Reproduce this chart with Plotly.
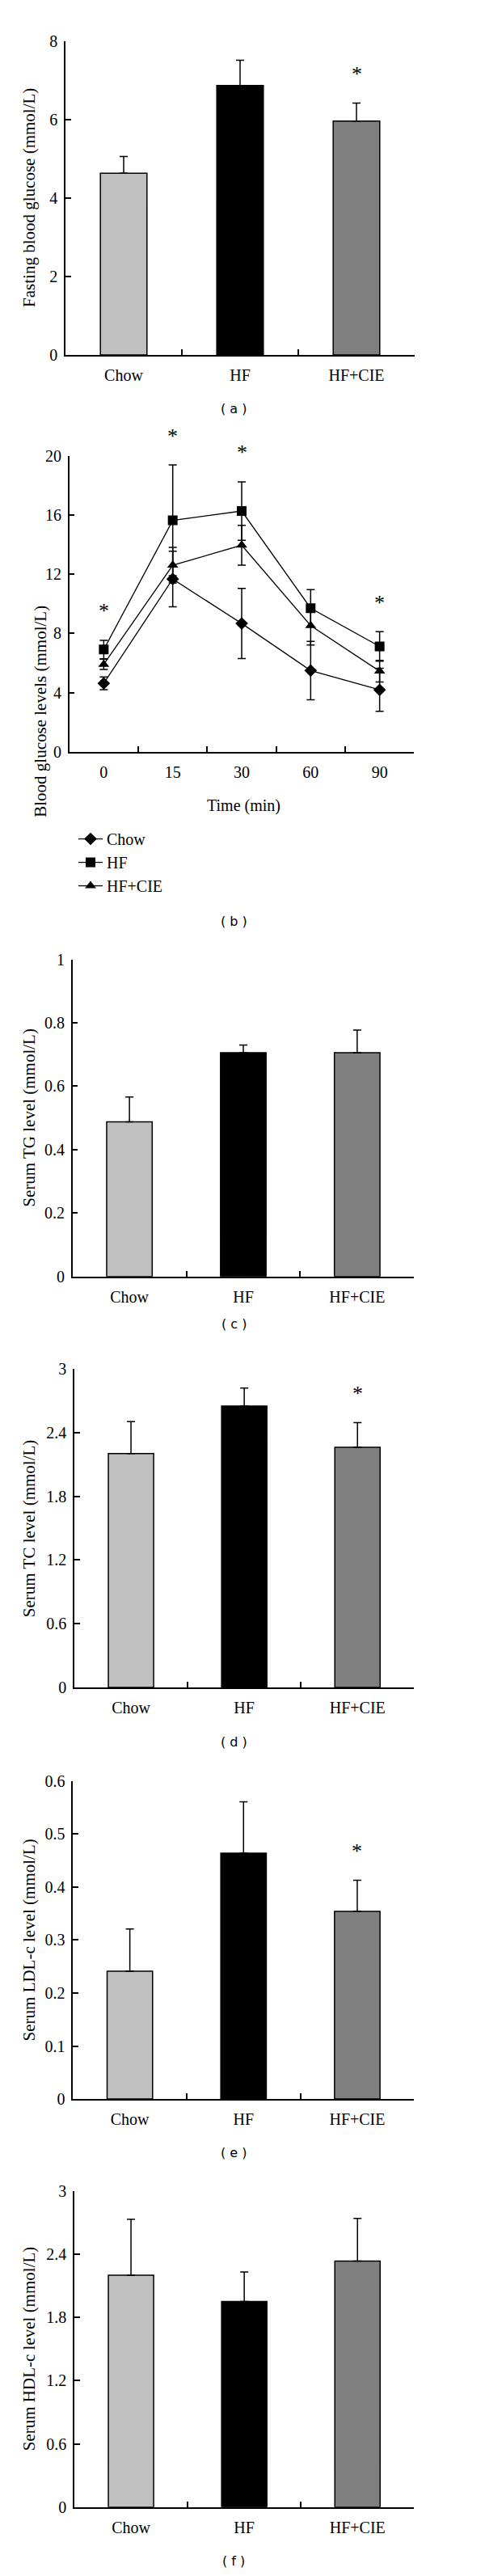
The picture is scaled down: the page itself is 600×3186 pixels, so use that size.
import plotly.graph_objects as go

# ---------------- data ----------------
groups = ["Chow", "HF", "HF+CIE"]
group_colors = ["#c0c0c0", "#000000", "#808080"]

fbg_mean = [4.63, 6.87, 5.96]
fbg_sd = [0.43, 0.64, 0.46]
fbg_sig = [False, False, True]

time_labels = ["0", "15", "30", "60", "90"]
ogtt_chow = [4.63, 11.67, 8.67, 5.49, 4.19]
ogtt_chow_sd = [0.43, 1.88, 2.37, 1.97, 1.45]
ogtt_hf = [6.91, 15.63, 16.26, 9.70, 7.12]
ogtt_hf_sd = [0.62, 3.74, 1.97, 1.26, 1.00]
ogtt_hfcie = [5.91, 12.60, 13.95, 8.53, 5.45]
ogtt_hfcie_sd = [0.35, 1.20, 1.35, 1.32, 0.73]
ogtt_sig = [True, True, True, False, True]

tg_mean = [0.488, 0.706, 0.706]
tg_sd = [0.078, 0.024, 0.071]
tg_sig = [False, False, False]

tc_mean = [2.205, 2.652, 2.263]
tc_sd = [0.300, 0.170, 0.232]
tc_sig = [False, False, True]

ldl_mean = [0.241, 0.464, 0.354]
ldl_sd = [0.080, 0.097, 0.059]
ldl_sig = [False, False, True]

hdl_mean = [2.200, 1.950, 2.333]
hdl_sd = [0.530, 0.280, 0.406]
hdl_sig = [False, False, False]

# ---------------- layout helpers ----------------
W, H = 600, 3186
SERIF = "Liberation Serif"
SANS = "DejaVu Sans"
STAR_SHIFT = 36


def fx(p):
    return p / W


def fy(p):
    return 1 - p / H


fig = go.Figure()
annotations = []

bar_panels = [
    (1, fbg_mean, fbg_sd, fbg_sig, "Fasting blood glucose (mmol/L)", [0, 8], 2, 73, 505, 32, 423, "( a )", 490),
    (3, tg_mean, tg_sd, tg_sig, "Serum TG level (mmol/L)", [0, 1], 0.2, 81.7, 504.3, 1175.7, 1570.7, "( c )", 1630),
    (4, tc_mean, tc_sd, tc_sig, "Serum TC level (mmol/L)", [0, 3], 0.6, 84, 504.3, 1686, 2082.3, "( d )", 2150),
    (5, ldl_mean, ldl_sd, ldl_sig, "Serum LDL-c level (mmol/L)", [0, 0.6], 0.1, 82.3, 504.3, 2199, 2595, "( e )", 2661.7),
    (6, hdl_mean, hdl_sd, hdl_sig, "Serum HDL-c level (mmol/L)", [0, 3], 0.6, 84, 504.3, 2709.3, 3103.3, "( f )", 3170),
]

axis_common = dict(
    showline=True, linecolor="black", linewidth=1.5,
    ticks="inside", ticklen=7, tickwidth=1.5, tickcolor="black",
    showgrid=False, zeroline=False,
    tickfont=dict(family=SERIF, size=20, color="black"),
)


def add_axes(i, x0, x1, ytop, ybot, yrange, dtick, xcats):
    xa = "xaxis" if i == 1 else f"xaxis{i}"
    ya = "yaxis" if i == 1 else f"yaxis{i}"
    fig.layout[xa] = dict(
        axis_common,
        domain=[fx(x0), fx(x1)],
        anchor=("y" if i == 1 else f"y{i}"),
        type="category", categoryorder="array", categoryarray=xcats,
        range=[-0.5, len(xcats) - 0.5], tickson="boundaries",
        ticklabelstandoff=6,
    )
    fig.layout[ya] = dict(
        axis_common,
        domain=[fy(ybot), fy(ytop)],
        anchor=("x" if i == 1 else f"x{i}"),
        range=yrange, dtick=dtick, tick0=0,
        ticklabelstandoff=4,
    )


for (i, mean, sd, sig, ytitle, yrange, dtick, x0, x1, ytop, ybot, label, label_y) in bar_panels:
    xr = "x" if i == 1 else f"x{i}"
    yr = "y" if i == 1 else f"y{i}"
    fig.add_trace(go.Bar(
        x=groups, y=mean, xaxis=xr, yaxis=yr, width=0.4,
        marker=dict(color=group_colors, line=dict(color="black", width=1.5)),
        error_y=dict(type="data", symmetric=False, array=sd, arrayminus=[0] * len(sd),
                     color="black", thickness=1.5, width=5),
        showlegend=False, hoverinfo="skip",
    ))
    add_axes(i, x0, x1, ytop, ybot, yrange, dtick, groups)
    annotations.append(dict(
        text=ytitle, textangle=-90, xref="paper", yref="paper",
        x=fx(28), y=fy((ytop + ybot) / 2), showarrow=False,
        font=dict(family=SERIF, size=21, color="black"),
        xanchor="center", yanchor="middle",
    ))
    annotations.append(dict(
        text=label, xref="paper", yref="paper", x=fx(281), y=fy(label_y),
        showarrow=False, font=dict(family=SANS, size=16, color="black"),
        xanchor="center", yanchor="middle",
    ))
    for k, (m, s, flag) in enumerate(zip(mean, sd, sig)):
        if flag:
            annotations.append(dict(
                text="*", xref=xr, yref=yr, x=k, y=m + s, showarrow=False,
                font=dict(family=SERIF, size=26, color="black"),
                xanchor="center", yanchor="middle", yshift=STAR_SHIFT,
            ))

# ---------------- panel b: OGTT ----------------
series = [
    ("Chow", ogtt_chow, ogtt_chow_sd, "diamond", 12),
    ("HF", ogtt_hf, ogtt_hf_sd, "square", 12),
    ("HF+CIE", ogtt_hfcie, ogtt_hfcie_sd, "triangle-up", 12),
]
for name, vals, sds, sym, size in series:
    fig.add_trace(go.Scatter(
        x=time_labels, y=vals, xaxis="x2", yaxis="y2", name=name,
        mode="lines+markers",
        line=dict(color="black", width=1.3),
        marker=dict(symbol=sym, size=size, color="black"),
        error_y=dict(type="data", array=sds, color="black", thickness=1.5, width=5),
        hoverinfo="skip",
    ))
add_axes(2, 77.7, 504.3, 548.3, 917.3, [0, 20], 4, time_labels)
annotations.append(dict(
    text="Blood glucose levels (mmol/L)", textangle=-90, xref="paper", yref="paper",
    x=fx(28), y=fy((548.3 + 917.3) / 2), showarrow=False,
    font=dict(family=SERIF, size=21, color="black"),
))
annotations.append(dict(
    text="Time (min)", xref="paper", yref="paper", x=fx(293), y=fy(970.7),
    showarrow=False, font=dict(family=SERIF, size=20, color="black"),
))
annotations.append(dict(
    text="( b )", xref="paper", yref="paper", x=fx(281), y=fy(1128.3),
    showarrow=False, font=dict(family=SANS, size=16, color="black"),
))
for k, (m, s, flag) in enumerate(zip(ogtt_hf, ogtt_hf_sd, ogtt_sig)):
    if flag:
        annotations.append(dict(
            text="*", xref="x2", yref="y2", x=k, y=m + s, showarrow=False,
            font=dict(family=SERIF, size=26, color="black"),
            xanchor="center", yanchor="middle", yshift=STAR_SHIFT,
        ))

fig.update_layout(
    width=W, height=H,
    margin=dict(l=0, r=0, t=0, b=0),
    paper_bgcolor="white", plot_bgcolor="white",
    annotations=annotations,
    showlegend=True,
    legend=dict(
        x=fx(84), y=fy(1006), xanchor="left", yanchor="top",
        font=dict(family=SERIF, size=20, color="black"),
        bgcolor="rgba(0,0,0,0)", tracegroupgap=0,
    ),
)

fig.write_html("out.html")
